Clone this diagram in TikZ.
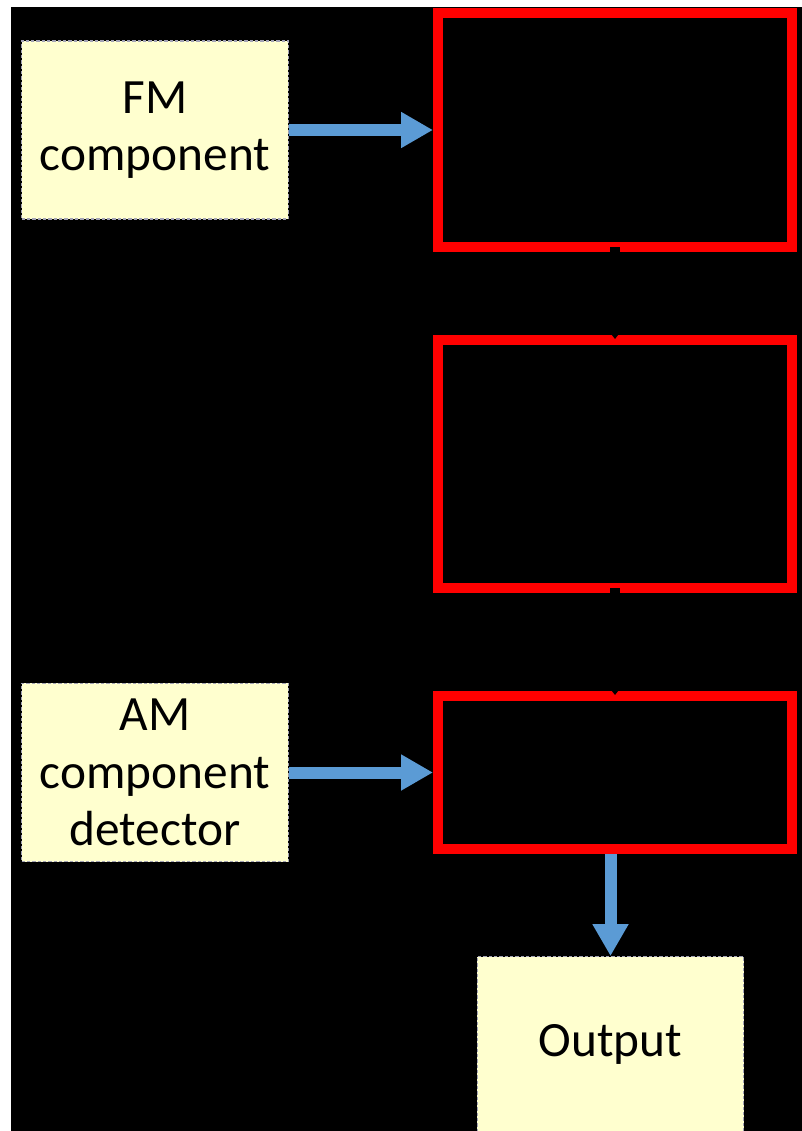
\documentclass[tikz,border=0pt]{standalone}
\usepackage{fontspec}
\setmainfont{Carlito}
\usetikzlibrary{positioning,arrows.meta}
\definecolor{paper}{HTML}{FFFFCF}
\definecolor{edge}{HTML}{A3A3B5}
\definecolor{flow}{HTML}{5B9BD5}
\definecolor{frame}{HTML}{FF0000}
\begin{document}
\begin{tikzpicture}[x=0.75pt,y=-0.75pt,note/.style={draw=edge,dash pattern=on 2.5pt off 1.5pt,line width=0.9pt,fill=paper,minimum width=200pt,align=center,font=\fontsize{37}{43}\selectfont},redbox/.style={draw=frame,line width=7.5pt,minimum width=265.5pt},arr/.style={-{Triangle[width=25.5pt,length=24pt]},line width=9pt,draw=flow},link/.style={-{Triangle[width=9pt,length=6pt]},line width=7pt,draw=black},node distance=62pt]
\path[use as bounding box,fill=white] (0,0) rectangle (802,1131);
\fill[black] (11,7) rectangle (802,1131);
\node[redbox,minimum height=175.5pt] (mix1) at (615,130) {};
\node[redbox,minimum height=186pt,below=62.25pt of mix1] (mix2) {};
\node[redbox,minimum height=114.75pt,below=73.5pt of mix2] (mix3) {};
\node[note,minimum height=133.5pt,left=108pt of mix1] (fm) {FM\\component};
\node[note,minimum height=134pt,left=108pt of mix3] (am) {AM\\component\\detector};
\node[note,minimum height=131pt] (out) at (610.5,1044) {Output};
\draw[link,shorten <=-3.75pt,shorten >=-3pt] (mix1.south) -- (mix2.north);
\draw[link,shorten <=-3.75pt,shorten >=-3pt] (mix2.south) -- (mix3.north);
\draw[arr] (fm.east) -- (fm.east -| mix1.west);
\draw[arr] (am.east) -- (am.east -| mix3.west);
\draw[arr] (out.north |- mix3.south) -- (out.north);
\end{tikzpicture}
\end{document}
